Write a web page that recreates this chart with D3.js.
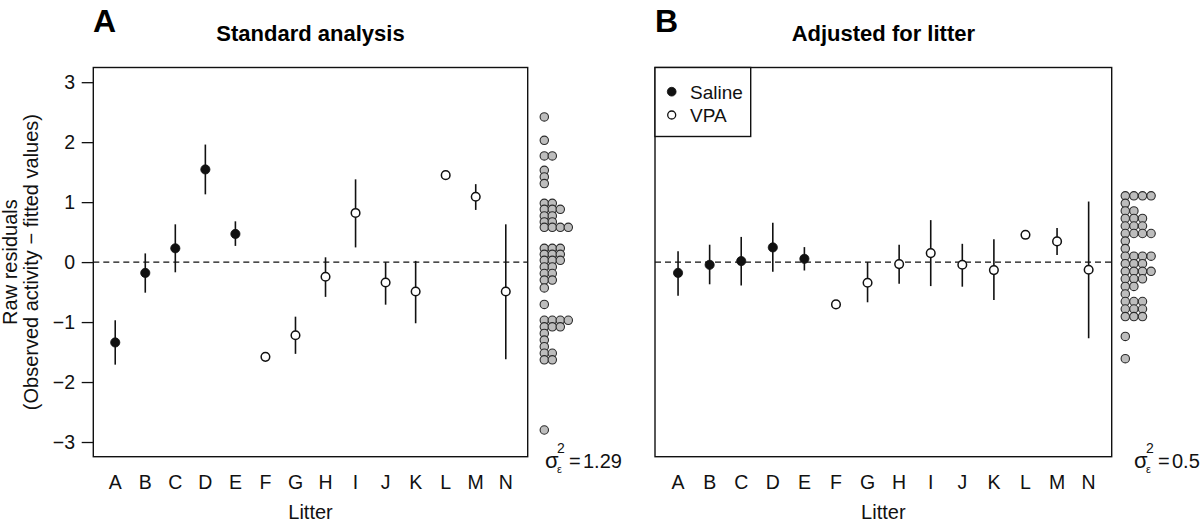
<!DOCTYPE html>
<html><head><meta charset="utf-8">
<script src="https://cdn.jsdelivr.net/npm/d3@7"></script>
<style>body{margin:0;background:#fff}svg{display:block;font-family:"Liberation Sans",Arial,sans-serif}</style>
</head><body><svg id="c" width="1200" height="523"></svg>
<script>
// ---------- data ----------
const litters = ["A","B","C","D","E","F","G","H","I","J","K","L","M","N"];
const treatment = ["Saline","Saline","Saline","Saline","Saline","VPA","VPA","VPA","VPA","VPA","VPA","VPA","VPA","VPA"];
const stdEst = [-1.34,-0.18,0.23,1.545,0.47,-1.58,-1.22,-0.245,0.82,-0.34,-0.49,1.45,1.09,-0.49];
const stdLo  = [-1.71,-0.51,-0.17,1.13,0.27,null,-1.53,-0.58,0.245,-0.71,-1.02,null,0.87,-1.62];
const stdHi  = [-0.97,0.145,0.63,1.96,0.68,null,-0.91,0.08,1.38,0.0,0.02,null,1.30,0.63];
const adjEst = [-0.18,-0.045,0.017,0.245,0.055,-0.705,-0.345,-0.033,0.15,-0.045,-0.133,0.455,0.345,-0.128];
const adjLo  = [-0.56,-0.37,-0.39,-0.16,-0.14,null,-0.67,-0.36,-0.40,-0.41,-0.63,null,0.117,-1.27];
const adjHi  = [0.18,0.29,0.42,0.655,0.25,null,0.0,0.29,0.70,0.305,0.38,null,0.57,1.01];
const yTicks = [-3,-2,-1,0,1,2,3];
const stripStdValues = [2.42,2.03,1.77,1.53,1.42,1.31,0.98,0.88,0.77,0.67,0.58,0.23,0.13,0.03,-0.08,-0.19,-0.30,-0.43,-0.705,-0.97,-1.08,-1.19,-1.30,-1.41,-1.52,-1.63,-2.80];
const stripStdCounts = [1,1,2,1,1,1,2,3,2,2,4,3,3,3,2,2,2,1,1,4,3,1,1,1,2,2,1];
const stripAdjValues = [1.105,0.98,0.853,0.728,0.602,0.477,0.35,0.225,0.098,-0.027,-0.153,-0.278,-0.405,-0.53,-0.657,-0.782,-0.908,-1.24,-1.61];
const stripAdjCounts = [4,1,2,3,3,4,1,1,4,3,4,3,2,1,3,3,3,1,1];
const panelTitles = ["Standard analysis","Adjusted for litter"];
const panelLetters = ["A","B"];
const sigmaValues = ["1.29","0.5"];
const legendLabels = ["Saline","VPA"];

// ---------- drawing ----------
const svg = d3.select("#c");
const y = d3.scaleLinear().domain([-3.245,3.245]).range([456.7,67.5]);
const ink = "#111";
const FS = 19.5;

const panels = [
  {x0:93.3, x1:527.7, est:stdEst, lo:stdLo, hi:stdHi, sv:stripStdValues, sc:stripStdCounts,
   stripX:544.3, stripDx:8.0, sigX:545, letterX:93, axis:true, legend:false},
  {x0:655, x1:1111.7, est:adjEst, lo:adjLo, hi:adjHi, sv:stripAdjValues, sc:stripAdjCounts,
   stripX:1125.3, stripDx:8.6, sigX:1134, letterX:655, axis:false, legend:true}
];

panels.forEach((p, pi) => {
  const g = svg.append("g");
  const x = d3.scaleLinear().domain([0.27, 14.73]).range([p.x0, p.x1]);
  const xi = i => x(i + 1);

  // dashed zero line
  g.append("line").attr("x1", p.x0).attr("x2", p.x1).attr("y1", y(0)).attr("y2", y(0))
    .attr("stroke", ink).attr("stroke-width", 1.3).attr("stroke-dasharray", "6,4");

  // error bars
  litters.forEach((l, i) => {
    if (p.lo[i] == null) return;
    g.append("line").attr("x1", xi(i)).attr("x2", xi(i)).attr("y1", y(p.lo[i])).attr("y2", y(p.hi[i]))
      .attr("stroke", ink).attr("stroke-width", 1.6);
  });
  // points
  litters.forEach((l, i) => {
    const filled = treatment[i] === "Saline";
    g.append("circle").attr("cx", xi(i)).attr("cy", y(p.est[i])).attr("r", filled ? 4.6 : 4.3)
      .attr("fill", filled ? ink : "#fff").attr("stroke", ink).attr("stroke-width", filled ? 0.8 : 1.5);
  });

  // box
  g.append("rect").attr("x", p.x0).attr("y", y.range()[1]).attr("width", p.x1 - p.x0)
    .attr("height", y.range()[0] - y.range()[1]).attr("fill", "none").attr("stroke", ink).attr("stroke-width", 1.4);

  // x labels
  g.selectAll(".xl").data(litters).enter().append("text")
    .attr("x", (d, i) => xi(i)).attr("y", 489).attr("text-anchor", "middle")
    .attr("font-size", FS).attr("fill", ink).text(d => d);
  g.append("text").attr("x", (p.x0 + p.x1) / 2).attr("y", 519).attr("text-anchor", "middle")
    .attr("font-size", 20).attr("fill", ink).text("Litter");

  // y axis
  if (p.axis) {
    const ax = g.append("g").attr("transform", `translate(${p.x0},0)`)
      .call(d3.axisLeft(y).tickValues(yTicks).tickSize(11.6).tickPadding(6.7)
        .tickFormat(d => d < 0 ? "\u2212" + Math.abs(d) : String(d)));
    ax.select(".domain").remove();
    ax.selectAll("line").attr("stroke", ink).attr("stroke-width", 1.3);
    ax.selectAll("text").attr("font-size", FS).attr("fill", ink).attr("font-family", "Liberation Sans, Arial, sans-serif");
    g.append("text").attr("transform", `translate(17,${y(0)}) rotate(-90)`)
      .attr("text-anchor", "middle").attr("font-size", 20).attr("fill", ink).text("Raw residuals");
    g.append("text").attr("transform", `translate(38,${y(0)}) rotate(-90)`)
      .attr("text-anchor", "middle").attr("font-size", 20).attr("fill", ink)
      .text("(Observed activity \u2212 fitted values)");
  }

  // titles
  g.append("text").attr("x", p.letterX).attr("y", 32).attr("font-size", 32).attr("font-weight", "bold")
    .attr("fill", "#000").text(panelLetters[pi]);
  g.append("text").attr("x", (p.x0 + p.x1) / 2).attr("y", 41).attr("text-anchor", "middle")
    .attr("font-size", 22).attr("font-weight", "bold").attr("fill", "#000").text(panelTitles[pi]);

  // stacked strip of residuals
  const sx = d3.scaleLinear().domain([0, 1]).range([p.stripX, p.stripX + p.stripDx]);
  const dots = [];
  p.sv.forEach((v, r) => { for (let k = 0; k < p.sc[r]; k++) dots.push({v, k}); });
  g.selectAll(".dot").data(dots).enter().append("circle")
    .attr("cx", d => sx(d.k)).attr("cy", d => y(d.v)).attr("r", 4.2)
    .attr("fill", "#bdbdbd").attr("stroke", "#2a2a2a").attr("stroke-width", 1.1);

  // sigma label
  const sg = g.append("g").attr("fill", ink);
  sg.append("text").attr("x", p.sigX).attr("y", 468).attr("font-size", 22).text("\u03c3");
  sg.append("text").attr("x", p.sigX + 12).attr("y", 453).attr("font-size", 14).text("2");
  sg.append("text").attr("x", p.sigX + 12).attr("y", 473).attr("font-size", 11).text("\u03b5");
  sg.append("text").attr("x", p.sigX + 24).attr("y", 468).attr("font-size", 20).text("=");
  sg.append("text").attr("x", p.sigX + 38).attr("y", 468).attr("font-size", 20).text(sigmaValues[pi]);

  // legend
  if (p.legend) {
    const lg = g.append("g");
    lg.append("rect").attr("x", p.x0).attr("y", y.range()[1]).attr("width", 95.7).attr("height", 69)
      .attr("fill", "#fff").attr("stroke", ink).attr("stroke-width", 1.4);
    legendLabels.forEach((lab, j) => {
      const cy = 91.7 + j * 23.3;
      const filled = j === 0;
      lg.append("circle").attr("cx", p.x0 + 16.7).attr("cy", cy).attr("r", filled ? 4.4 : 4)
        .attr("fill", filled ? ink : "#fff").attr("stroke", ink).attr("stroke-width", filled ? 0.8 : 1.3);
      lg.append("text").attr("x", p.x0 + 35).attr("y", cy + 6.8).attr("font-size", 19).attr("fill", ink).text(lab);
    });
  }
});
</script></body></html>
